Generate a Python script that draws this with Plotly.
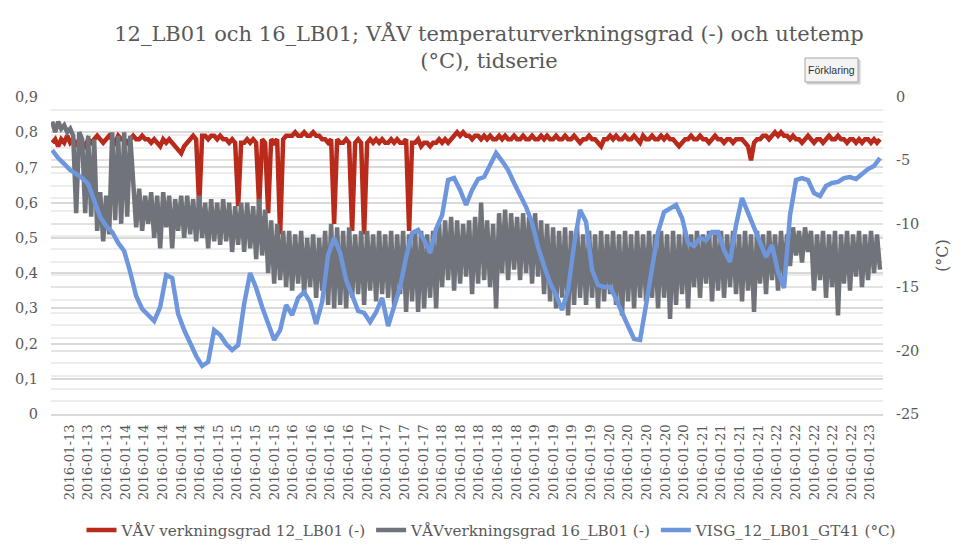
import numpy as np
import plotly.graph_objects as go

TITLE = "12_LB01 och 16_LB01; VÅV temperaturverkningsgrad (-) och utetemp<br>(°C), tidserie"
NAME_12 = "VÅV verkningsgrad 12_LB01 (-)"
NAME_16 = "VÅVverkningsgrad 16_LB01 (-)"
NAME_T = "VISG_12_LB01_GT41 (°C)"
RIGHT_TITLE = "(°C)"
BUTTON_TEXT = "Förklaring"

X_LABELS = (["2016-01-13"] * 4 + ["2016-01-14"] * 5 + ["2016-01-15"] * 4 +
            ["2016-01-16"] * 4 + ["2016-01-17"] * 4 + ["2016-01-18"] * 5 +
            ["2016-01-19"] * 4 + ["2016-01-20"] * 5 + ["2016-01-21"] * 4 +
            ["2016-01-22"] * 5 + ["2016-01-23"])

Y_LEFT_VALS = [0, 0.1, 0.2, 0.3, 0.4, 0.5, 0.6, 0.7, 0.8, 0.9]
Y_LEFT_TEXT = ["0", "0,1", "0,2", "0,3", "0,4", "0,5", "0,6", "0,7", "0,8", "0,9"]
Y_RIGHT_VALS = [-25, -20, -15, -10, -5, 0]
Y_RIGHT_TEXT = ["-25", "-20", "-15", "-10", "-5", "0"]

# VÅV verkningsgrad 12_LB01 (-)
VAV_12 = [
    0.77, 0.78, 0.76, 0.78, 0.77, 0.79, 0.77, 0.78, 0.76, 0.78,
    0.77, 0.76, 0.78, 0.77, 0.78, 0.79, 0.78, 0.77, 0.78, 0.79,
    0.78, 0.77, 0.79, 0.78, 0.78, 0.77, 0.78, 0.79, 0.78, 0.78,
    0.79, 0.78, 0.78, 0.77, 0.78, 0.77, 0.76, 0.78, 0.77, 0.78,
    0.77, 0.76, 0.75, 0.74, 0.76, 0.77, 0.78, 0.79, 0.78, 0.59,
    0.79, 0.79, 0.78, 0.79, 0.79, 0.78, 0.79, 0.78, 0.78, 0.77,
    0.78, 0.77, 0.59, 0.77, 0.77, 0.78, 0.77, 0.78, 0.77, 0.59,
    0.78, 0.77, 0.57, 0.78, 0.77, 0.78, 0.51, 0.78, 0.79, 0.79,
    0.79, 0.80, 0.79, 0.79, 0.80, 0.79, 0.79, 0.80, 0.79, 0.79,
    0.78, 0.78, 0.77, 0.78, 0.54, 0.78, 0.77, 0.77, 0.78, 0.77,
    0.52, 0.77, 0.78, 0.77, 0.51, 0.77, 0.78, 0.77, 0.78, 0.77,
    0.78, 0.77, 0.77, 0.78, 0.77, 0.78, 0.77, 0.77, 0.78, 0.52,
    0.77, 0.77, 0.78, 0.76, 0.77, 0.77, 0.76, 0.77, 0.77, 0.78,
    0.77, 0.78, 0.77, 0.78, 0.79, 0.80, 0.79, 0.80, 0.79, 0.79,
    0.78, 0.79, 0.79, 0.78, 0.79, 0.78, 0.79, 0.78, 0.78, 0.79,
    0.78, 0.79, 0.78, 0.78, 0.79, 0.78, 0.78, 0.79, 0.78, 0.78,
    0.79, 0.78, 0.78, 0.79, 0.78, 0.79, 0.78, 0.78, 0.79, 0.78,
    0.78, 0.79, 0.78, 0.78, 0.79, 0.78, 0.77, 0.78, 0.78, 0.79,
    0.78, 0.78, 0.77, 0.76, 0.78, 0.78, 0.79, 0.78, 0.79, 0.78,
    0.78, 0.79, 0.78, 0.78, 0.79, 0.78, 0.77, 0.79, 0.78, 0.78,
    0.79, 0.78, 0.78, 0.79, 0.78, 0.79, 0.78, 0.78, 0.77, 0.76,
    0.77, 0.78, 0.78, 0.79, 0.78, 0.78, 0.79, 0.78, 0.78, 0.77,
    0.78, 0.79, 0.78, 0.78, 0.77, 0.78, 0.78, 0.77, 0.78, 0.78,
    0.78, 0.77, 0.76, 0.72, 0.77, 0.78, 0.78, 0.79, 0.79, 0.78,
    0.79, 0.80, 0.79, 0.80, 0.79, 0.79, 0.78, 0.79, 0.78, 0.78,
    0.77, 0.78, 0.79, 0.78, 0.77, 0.78, 0.78, 0.77, 0.78, 0.79,
    0.78, 0.78, 0.79, 0.78, 0.78, 0.77, 0.78, 0.78, 0.77, 0.78,
    0.77, 0.78, 0.78, 0.77, 0.78, 0.77, 0.78,
]

# VÅVverkningsgrad 16_LB01 (-)
VAV_16 = [
    0.83, 0.80, 0.83, 0.81, 0.82, 0.80, 0.81,
    0.79, 0.57, 0.80, 0.78, 0.57, 0.79, 0.56, 0.78, 0.52, 0.63, 0.49, 0.62, 0.51,
    0.80, 0.55, 0.79, 0.54, 0.80, 0.56, 0.79,
    0.63, 0.53, 0.64, 0.52, 0.62, 0.54, 0.63, 0.50, 0.62, 0.47, 0.63, 0.53, 0.62, 0.47,
    0.61, 0.52, 0.62, 0.50, 0.62, 0.51, 0.61, 0.49, 0.62, 0.50, 0.60, 0.47, 0.61, 0.49,
    0.60, 0.48, 0.61, 0.49, 0.60, 0.46, 0.59, 0.48, 0.60, 0.46, 0.60, 0.47, 0.59, 0.44,
    0.61, 0.45,
    0.58, 0.40, 0.55, 0.37, 0.54, 0.38, 0.52, 0.36, 0.52, 0.35, 0.51, 0.37, 0.52, 0.34,
    0.50, 0.36, 0.51, 0.33, 0.50, 0.35, 0.52, 0.31, 0.54, 0.30, 0.53, 0.31,
    0.52, 0.30, 0.53, 0.33, 0.51, 0.34, 0.52, 0.31, 0.52, 0.35, 0.51, 0.32, 0.52, 0.34,
    0.51, 0.33, 0.52, 0.31, 0.51, 0.34, 0.52, 0.29, 0.51, 0.32, 0.52, 0.29, 0.52, 0.30,
    0.51, 0.33, 0.52, 0.30,
    0.54, 0.36, 0.55, 0.38, 0.56, 0.35, 0.55, 0.37, 0.54, 0.39, 0.55, 0.34, 0.56, 0.37,
    0.60, 0.38, 0.55, 0.36, 0.54, 0.30,
    0.57, 0.40, 0.58, 0.38, 0.57, 0.41, 0.56, 0.38, 0.57, 0.40, 0.56, 0.37, 0.57, 0.39,
    0.55,
    0.34, 0.54, 0.32, 0.53, 0.30, 0.52, 0.33, 0.53, 0.28, 0.52, 0.31, 0.53, 0.33, 0.51,
    0.31, 0.52, 0.33, 0.51, 0.30, 0.52, 0.32, 0.51, 0.34, 0.52, 0.31, 0.51, 0.28, 0.52,
    0.32, 0.51, 0.30, 0.52, 0.33,
    0.51, 0.32, 0.52, 0.33, 0.51, 0.30, 0.52, 0.33, 0.51, 0.27, 0.52, 0.31, 0.51, 0.34,
    0.52, 0.30, 0.51,
    0.36, 0.52, 0.33, 0.51, 0.37, 0.52, 0.32, 0.51, 0.35, 0.52, 0.33, 0.51, 0.36, 0.52,
    0.34, 0.51, 0.32, 0.52, 0.35, 0.51, 0.29, 0.52,
    0.37, 0.51, 0.34, 0.52, 0.38, 0.51, 0.35, 0.52, 0.39, 0.51,
    0.42, 0.53, 0.45, 0.52, 0.43, 0.53, 0.46, 0.52,
    0.35, 0.51, 0.38, 0.52, 0.33, 0.51, 0.36, 0.52, 0.28, 0.51,
    0.37, 0.52, 0.35, 0.51, 0.39, 0.52, 0.36, 0.51, 0.38, 0.52, 0.40, 0.51, 0.41,
]

# VISG_12_LB01_GT41 (°C)
GT41 = [
    -4.18, -4.81, -5.28, -5.76, -6.07, -6.39, -6.86, -8.12, -9.46, -10.17,
    -10.65, -11.51, -12.14, -13.80, -15.69, -16.72, -17.19, -17.67, -16.56, -14.04,
    -14.27, -17.11, -18.38, -19.48, -20.43, -21.21, -20.90, -18.38, -18.77, -19.48,
    -19.95, -19.56, -16.32, -13.88, -15.06, -16.56, -17.90, -19.16, -18.38, -16.40,
    -17.19, -15.85, -15.38, -16.17, -17.90, -16.17, -12.46, -11.12, -12.30, -14.43,
    -15.62, -16.88, -17.03, -17.74, -16.96, -15.85, -18.06, -16.56, -14.98, -12.62,
    -10.73, -10.49, -11.28, -12.30, -10.41, -9.31, -6.55, -6.39, -7.33, -8.52,
    -7.33, -6.47, -6.31, -5.36, -4.42, -5.05, -5.76, -6.78, -7.73, -8.68,
    -9.94, -11.83, -13.33, -14.67, -15.62, -16.80, -15.22, -11.67, -8.91, -9.86,
    -13.64, -14.83, -14.98, -14.98, -15.93, -17.11, -18.06, -19.09, -19.16, -16.40,
    -13.25, -10.65, -9.07, -8.75, -8.52, -9.54, -11.51, -11.75, -11.12, -11.28,
    -10.65, -10.65, -12.07, -13.01, -10.09, -7.97, -9.15, -10.33, -11.28, -12.62,
    -11.67, -13.80, -15.06, -9.31, -6.55, -6.39, -6.55, -7.57, -7.81, -7.02,
    -6.78, -6.70, -6.39, -6.31, -6.47, -6.07, -5.68, -5.44, -4.81,
]

RED = "#B92A1B"
GREY = "#70737A"
BLUE = "#6E96DC"
TEXT = "#595959"
SERIF = "DejaVu Serif"

# the page has an 8 px body margin, so the figure is 970 x 550
FIG_W, FIG_H = 970, 550
PLOT_L, PLOT_T, PLOT_W, PLOT_H = 43, 89, 832, 317

n = len(VAV_12)
x_main = np.arange(n)
x_16 = np.linspace(0, n - 1, len(VAV_16))
x_t = np.linspace(0, n - 1, len(GT41))
tick_pos = np.linspace(-0.43, n - 4.3, len(X_LABELS))

fig = go.Figure()
fig.add_trace(go.Scatter(x=x_main, y=VAV_12, name=NAME_12, mode="lines",
                         line=dict(color=RED, width=4.5)))
fig.add_trace(go.Scatter(x=x_16, y=VAV_16, name=NAME_16, mode="lines",
                         line=dict(color=GREY, width=4.5)))
fig.add_trace(go.Scatter(x=x_t, y=GT41, name=NAME_T, mode="lines", yaxis="y2",
                         line=dict(color=BLUE, width=4.5)))

fig.update_layout(
    width=FIG_W, height=FIG_H,
    margin=dict(l=PLOT_L, r=FIG_W - PLOT_L - PLOT_W, t=PLOT_T,
                b=FIG_H - PLOT_T - PLOT_H, autoexpand=False),
    paper_bgcolor="white", plot_bgcolor="white",
    font=dict(family=SERIF, color=TEXT, size=14),
    title=dict(text=TITLE, x=(489 - 8) / FIG_W, xref="container", xanchor="center",
               y=1 - 33 / FIG_H, yref="container", yanchor="middle",
               font=dict(family=SERIF, size=21, color=TEXT)),
    xaxis=dict(range=[-0.4, n], tickmode="array", tickvals=tick_pos, ticktext=X_LABELS,
               tickangle=-90, tickfont=dict(size=13.2, color=TEXT, family=SERIF),
               showgrid=False, zeroline=False, showline=True, linecolor="#d9d9d9",
               linewidth=2, ticks="", ticklabelstandoff=3, automargin=False),
    yaxis=dict(range=[0, 0.9], tickmode="array", tickvals=Y_LEFT_VALS, ticktext=Y_LEFT_TEXT,
               showgrid=True, gridcolor="#d9d9d9", gridwidth=1.5, zeroline=False,
               ticks="", ticklabelstandoff=12, automargin=False,
               tickfont=dict(size=14.5, color=TEXT, family=SERIF)),
    yaxis2=dict(range=[-25, 0], overlaying="y", side="right", tickmode="array",
                tickvals=Y_RIGHT_VALS, ticktext=Y_RIGHT_TEXT,
                showgrid=True, gridcolor="#e3e3e3", gridwidth=1.5, zeroline=False,
                ticks="", ticklabelstandoff=12, automargin=False,
                tickfont=dict(size=14.5, color=TEXT, family=SERIF),
                minor=dict(dtick=1, showgrid=True, gridcolor="#ededed", gridwidth=1.5),
                title=dict(text=RIGHT_TITLE, font=dict(size=16, color=TEXT, family=SERIF),
                           standoff=18)),
    legend=dict(orientation="h", x=(492 - 8 - PLOT_L) / PLOT_W, xanchor="center",
                y=-0.366, yanchor="middle",
                font=dict(family=SERIF, size=15.2, color=TEXT),
                bgcolor="rgba(0,0,0,0)"),
    showlegend=True,
)

# "Förklaring" button (page px 805-858 x 58-82)
def px_x(p):
    return (p - 8 - PLOT_L) / PLOT_W


def px_y(p):
    return (PLOT_T + PLOT_H - (p - 8)) / PLOT_H


fig.add_shape(type="rect", xref="paper", yref="paper",
              x0=px_x(807), x1=px_x(860), y0=px_y(84), y1=px_y(60),
              line=dict(color="#d0d0d0", width=1), fillcolor="#d0d0d0")
fig.add_shape(type="rect", xref="paper", yref="paper",
              x0=px_x(805), x1=px_x(858), y0=px_y(82), y1=px_y(58),
              line=dict(color="#a6a6a6", width=1), fillcolor="#f4f4f4")
fig.add_annotation(text=BUTTON_TEXT, xref="paper", yref="paper",
                   x=px_x(831.5), y=px_y(70), xanchor="center", yanchor="middle",
                   showarrow=False, font=dict(family="Liberation Sans", size=10.5, color="#333333"))

fig.write_html("out.html")
